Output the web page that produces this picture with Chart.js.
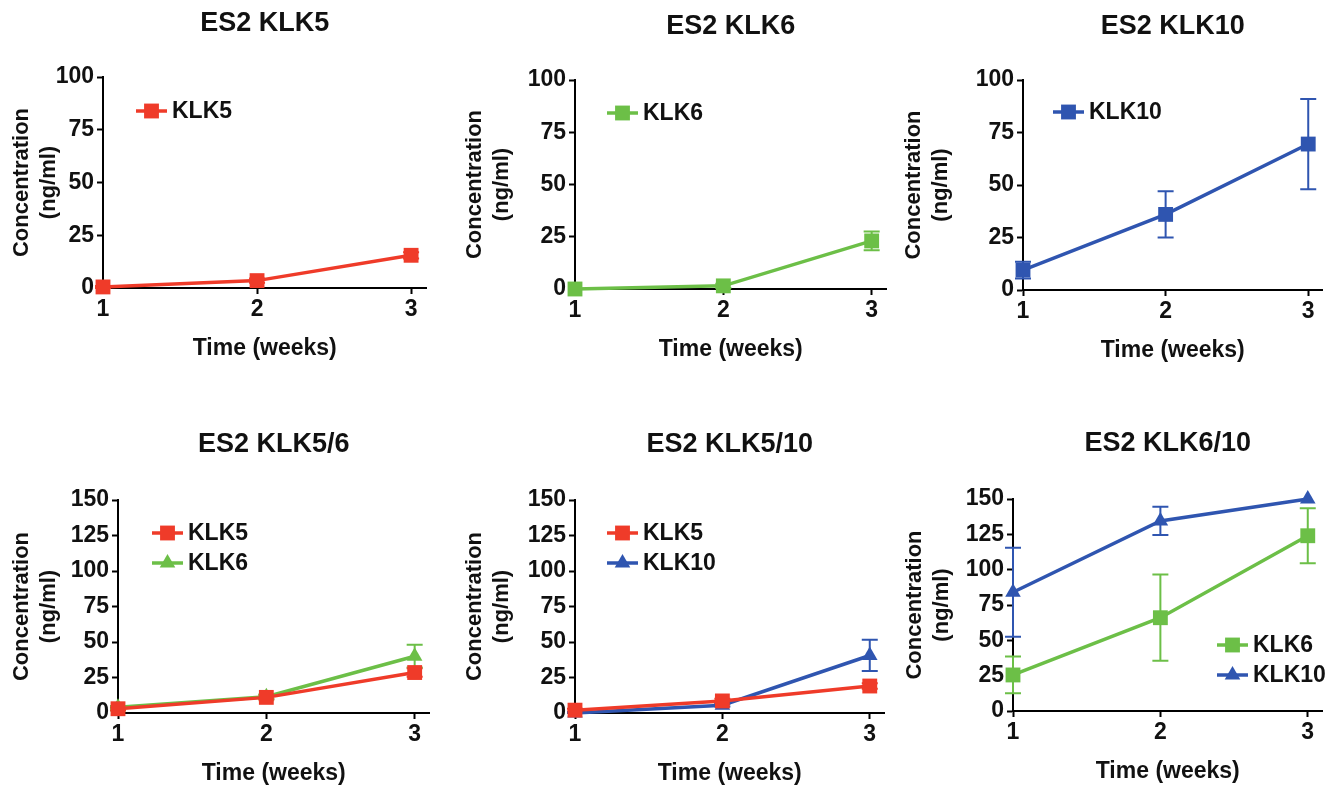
<!DOCTYPE html>
<html>
<head>
<meta charset="utf-8">
<script src="https://cdn.jsdelivr.net/npm/chart.js@4.4.1/dist/chart.umd.min.js"></script>
<style>
  body { margin: 0; background: #fff; overflow: hidden; }
  #wrap { position: relative; width: 1331px; height: 786px; overflow: hidden; }
  canvas { position: absolute; }
</style>
</head>
<body>
<div id="wrap"></div>
<script>
const weeks = [1, 2, 3];
const xTicks = [1, 2, 3];
const yTicksTop = [0, 25, 50, 75, 100];
const yTicksBottom = [0, 25, 50, 75, 100, 125, 150];

// single transfections (ng/ml, mean and error)
const klk5Only = [0.5, 3.5, 15.5];
const klk5OnlyErr = [0.5, 1, 1.5];
const klk6Only = [0, 1.5, 23];
const klk6OnlyErr = [0, 1, 4.5];
const klk10Only = [9.5, 36, 69.5];
const klk10OnlyErr = [4, 11, 21.5];

// double transfections
const klk56_5 = [3, 11, 28.5];
const klk56_5Err = [1, 1.5, 3];
const klk56_6 = [4, 11.5, 40];
const klk56_6Err = [1, 1.5, 8];
const klk510_5 = [2, 8.5, 19];
const klk510_5Err = [1, 1.5, 2];
const klk510_10 = [0, 5.5, 40.5];
const klk510_10Err = [0.5, 1, 11];
const klk610_6 = [25.5, 66, 124];
const klk610_6Err = [13, 30.5, 19.5];
const klk610_10 = [84, 134.5, 150];
const klk610_10Err = [31.5, 10, 0];

const red = '#ef3b29';
const green = '#6cbf47';
const blue = '#2f55b0';

Chart.defaults.font.family = "'Liberation Sans', Arial, sans-serif";
Chart.defaults.font.weight = 'bold';
Chart.defaults.color = '#111';

function series(label, data, err, colour, shape) {
    return {
        label: label,
        data: weeks.map((w, i) => ({x: w, y: data[i]})),
        errorBars: err,
        borderColor: colour,
        backgroundColor: colour,
        borderWidth: 3.5,
        pointStyle: shape,
        pointRadius: shape === 'triangle' ? 9 : 10.5,
        pointBorderWidth: 0,
        tension: 0,
        clip: false
    };
}

// panel boxes: chart area [left, top, right, bottom], y scale width, legend offset
const panels = [
    {title: 'ES2 KLK5', area: [103, 77, 427, 288], yW: 103, yMax: 100, yTicks: yTicksTop, legend: [33, 34], tPad: 5,
     sets: [series('KLK5', klk5Only, klk5OnlyErr, red, 'rect')]},
    {title: 'ES2 KLK6', area: [575, 80, 887, 289], yW: 122, yMax: 100, yTicks: yTicksTop, legend: [32, 33], tPad: 5,
     sets: [series('KLK6', klk6Only, klk6OnlyErr, green, 'rect')]},
    {title: 'ES2 KLK10', area: [1023, 80, 1323, 290], yW: 131, yMax: 100, yTicks: yTicksTop, legend: [30, 32], tPad: 5,
     sets: [series('KLK10', klk10Only, klk10OnlyErr, blue, 'rect')]},
    {title: 'ES2 KLK5/6', area: [118, 500, 430, 713], yW: 118, yMax: 150, yTicks: yTicksBottom, legend: [34, 33], tPad: 3,
     sets: [series('KLK5', klk56_5, klk56_5Err, red, 'rect'), series('KLK6', klk56_6, klk56_6Err, green, 'triangle')]},
    {title: 'ES2 KLK5/10', area: [575, 500, 885, 713], yW: 122, yMax: 150, yTicks: yTicksBottom, legend: [32, 33], tPad: 3,
     sets: [series('KLK5', klk510_5, klk510_5Err, red, 'rect'), series('KLK10', klk510_10, klk510_10Err, blue, 'triangle')]},
    {title: 'ES2 KLK6/10', area: [1013, 499, 1323, 711], yW: 120, yMax: 150, yTicks: yTicksBottom, legend: [204, 146], tPad: 3,
     sets: [series('KLK6', klk610_6, klk610_6Err, green, 'rect'), series('KLK10', klk610_10, klk610_10Err, blue, 'triangle')]}
];

const errorBarPlugin = {
    id: 'errorBars',
    beforeDatasetsDraw(chart) {
        const ctx = chart.ctx;
        const xs = chart.scales.x, ys = chart.scales.y;
        chart.data.datasets.forEach(ds => {
            ds.data.forEach((p, i) => {
                const e = ds.errorBars[i];
                if (!e) return;
                const x = xs.getPixelForValue(p.x);
                const top = ys.getPixelForValue(p.y + e);
                const bot = ys.getPixelForValue(Math.max(p.y - e, 0));
                ctx.save();
                ctx.strokeStyle = ds.borderColor;
                ctx.lineWidth = 2;
                ctx.beginPath();
                ctx.moveTo(x, top); ctx.lineTo(x, bot);
                ctx.moveTo(x - 8, top); ctx.lineTo(x + 8, top);
                ctx.moveTo(x - 8, bot); ctx.lineTo(x + 8, bot);
                ctx.stroke();
                ctx.restore();
            });
        });
    }
};

function marker(ctx, shape, x, y, r) {
    ctx.beginPath();
    if (shape === 'triangle') {
        ctx.moveTo(x, y - r);
        ctx.lineTo(x + r * 0.866, y + r * 0.5);
        ctx.lineTo(x - r * 0.866, y + r * 0.5);
        ctx.closePath();
    } else {
        const s = r * Math.SQRT1_2;
        ctx.rect(x - s, y - s, 2 * s, 2 * s);
    }
    ctx.fill();
}

const legendPlugin = {
    id: 'sideLegend',
    afterDraw(chart, args, opts) {
        const ctx = chart.ctx;
        const a = chart.chartArea;
        chart.data.datasets.forEach((ds, i) => {
            const x = a.left + opts.at[0];
            const y = a.top + opts.at[1] + i * 30;
            ctx.save();
            ctx.strokeStyle = ds.borderColor;
            ctx.fillStyle = ds.borderColor;
            ctx.lineWidth = 3.5;
            ctx.beginPath();
            ctx.moveTo(x, y); ctx.lineTo(x + 31, y);
            ctx.stroke();
            marker(ctx, ds.pointStyle, x + 15.5, y, ds.pointRadius);
            ctx.fillStyle = '#111';
            ctx.font = "bold 23px 'Liberation Sans', Arial, sans-serif";
            ctx.textBaseline = 'middle';
            ctx.fillText(ds.label, x + 36, y + 1);
            ctx.restore();
        });
    }
};

const wrap = document.getElementById('wrap');
const titleBox = 75;
const xBox = 80;
const rightSlack = 10;

panels.forEach(p => {
    const [l, t, r, b] = p.area;
    const canvas = document.createElement('canvas');
    canvas.width = p.yW + (r - l) + rightSlack;
    canvas.height = titleBox + (b - t) + xBox;
    canvas.style.left = (l - p.yW) + 'px';
    canvas.style.top = (t - titleBox) + 'px';
    wrap.appendChild(canvas);

    new Chart(canvas.getContext('2d'), {
        type: 'line',
        data: {datasets: p.sets},
        plugins: [errorBarPlugin, legendPlugin],
        options: {
            responsive: false,
            animation: false,
            devicePixelRatio: 1,
            layout: {padding: 0},
            scales: {
                x: {
                    type: 'linear',
                    min: 1,
                    max: 3.1,
                    z: 1,
                    afterBuildTicks: s => { s.ticks = xTicks.map(v => ({value: v})); },
                    afterFit: s => { s.height = xBox; },
                    grid: {drawOnChartArea: false, drawTicks: true, tickLength: 6, tickWidth: 2, tickColor: '#000'},
                    border: {display: true, color: '#000', width: 2},
                    ticks: {color: '#111', font: {size: 23, weight: 'bold'}, padding: 2},
                    title: {display: true, text: 'Time (weeks)', color: '#111',
                            font: {size: 23, weight: 'bold', lineHeight: 1.2}, padding: {top: 0, bottom: 6}}
                },
                // top axis carries the panel title so it centres over the plot area
                top: {
                    type: 'linear',
                    position: 'top',
                    min: 1,
                    max: 3.1,
                    afterFit: s => { s.height = titleBox; },
                    grid: {display: false},
                    border: {display: false},
                    ticks: {display: false},
                    title: {display: true, text: p.title, color: '#111',
                            font: {size: 27, weight: 'bold', lineHeight: 1.2}, padding: {top: p.tPad, bottom: 0}}
                },
                y: {
                    type: 'linear',
                    min: 0,
                    max: p.yMax,
                    z: 1,
                    afterBuildTicks: s => { s.ticks = p.yTicks.map(v => ({value: v})); },
                    afterFit: s => { s.width = p.yW; },
                    grid: {drawOnChartArea: false, drawTicks: true, tickLength: 6, tickWidth: 2, tickColor: '#000'},
                    border: {display: true, color: '#000', width: 2},
                    ticks: {color: '#111', font: {size: 23, weight: 'bold'}, padding: 3},
                    title: {display: true, text: ['Concentration', '(ng/ml)'], color: '#111',
                            font: {size: 22, weight: 'bold', lineHeight: 1.25}, padding: {top: 8, bottom: 0}}
                }
            },
            plugins: {
                legend: {display: false},
                tooltip: {enabled: false},
                title: {display: false},
                sideLegend: {at: p.legend}
            }
        }
    });
});
</script>
</body>
</html>
